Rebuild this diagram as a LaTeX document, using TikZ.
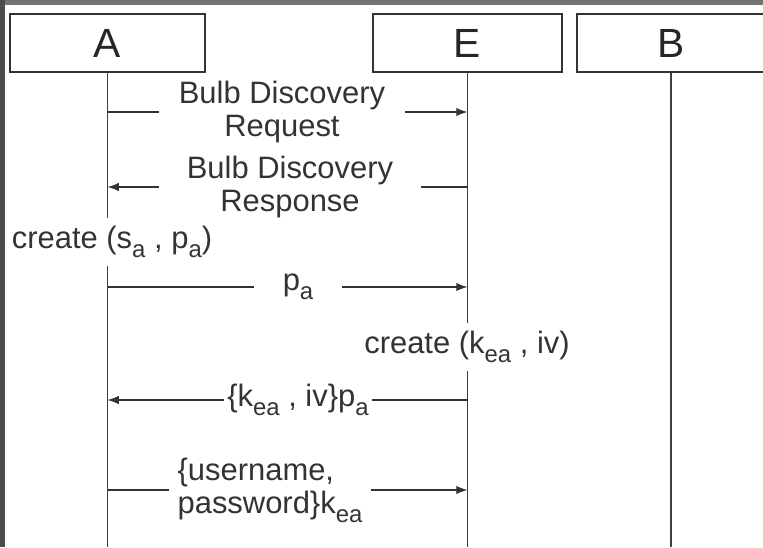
\documentclass[tikz,border=0pt]{standalone}
\usepackage{fontspec}
\setmainfont{Liberation Sans}
\usetikzlibrary{positioning,arrows.meta,calc}

% lowered subscript, as in the drawing
\newcommand{\lowsub}[1]{\raisebox{-6pt}{\fontsize{17}{17}\selectfont #1}}

\tikzset{
    actor/.style={draw=black!80, line width=0.9pt, minimum height=1.45cm,
        font=\fontsize{29}{32}\selectfont, text=black!85},
    lifeline/.style={draw=black!75, line width=0.9pt},
    msg/.style={draw=black!80, line width=0.9pt},
    msgtip/.style={msg, -{Latex[length=8pt,width=6pt]}},
    msglabel/.style={font=\fontsize{22}{24}\selectfont, text=black!80,
        align=center, inner ysep=0pt},
    note/.style={msglabel, fill=white, inner xsep=2pt, inner ysep=0.2cm}
}

\begin{document}
\begin{tikzpicture}[x=0.025cm, y=-0.025cm]
    \useasboundingbox (0,0) rectangle (763,547);
    \clip (0,0) rectangle (763,547);
    % Screenshot frame
    \fill[black!55] (0,0) rectangle (763,5);
    \fill[black!70] (0,0) rectangle (5,547);

    % Actors and lifelines
    \foreach \n/\x/\w in {A/107.5/195, E/467.5/189, B/671/188} {
        \node[actor, minimum width=\w*0.025cm] (\n) at (\x,43) {\n};
        \coordinate (\n end) at (\x,547);
        \draw[lifeline] (\n) -- (\n end);
    }

    % Discovery
    \node[msglabel, inner xsep=0.5cm] (req) at (282,112) {Bulb Discovery\\Request};
    \draw[msg] (A |- req) -- (req);
    \draw[msgtip] (req) -- (E |- req);
    \node[msglabel, inner xsep=0.7cm] (resp) at (290,187) {Bulb Discovery\\Response};
    \draw[msg] (E |- resp) -- (resp);
    \draw[msgtip] (resp) -- (A |- resp);

    % Key pair of A
    \node[note] (crA) at (112,242) {create (s\lowsub{a} , p\lowsub{a})};
    \node[msglabel, inner xsep=0.72cm] (pa) at (298,287) {p\lowsub{a}};
    \draw[msg] (A |- pa) -- (pa);
    \draw[msgtip] (pa) -- (E |- pa);

    % Session key from E
    \node[note] (crE) at (467,347) {create (k\lowsub{ea} , iv)};
    \node[msglabel, inner xsep=0.08cm] (kea) at (298,400) {\{k\lowsub{ea} , iv\}p\lowsub{a}};
    \draw[msg] (E |- kea) -- (kea);
    \draw[msgtip] (kea) -- (A |- kea);

    % Credentials
    \node[msglabel, align=left, inner xsep=0.22cm] (cred) at (270,490) {\{username,\\password\}k\lowsub{ea}};
    \draw[msg] (A |- cred) -- (cred);
    \draw[msgtip] (cred) -- (E |- cred);
\end{tikzpicture}
\end{document}
